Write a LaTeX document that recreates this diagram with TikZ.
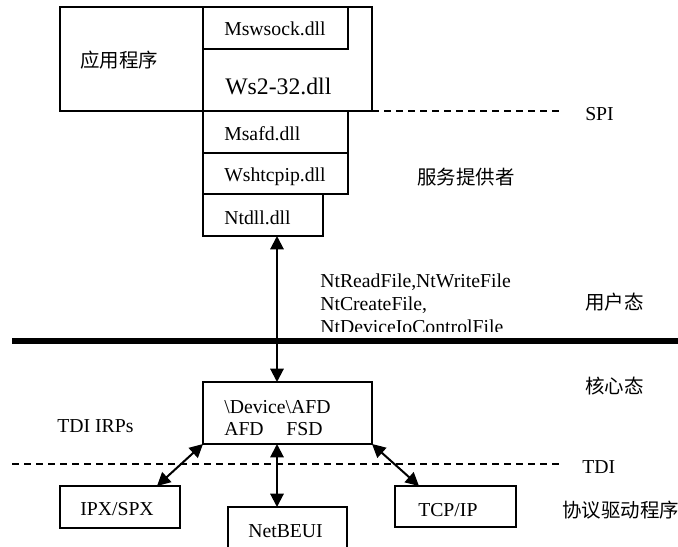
\documentclass[tikz,border=0pt]{standalone}
\usepackage{fontspec}
\setmainfont{Liberation Serif}
\newfontfamily\cjk{Noto Sans CJK SC}
\usetikzlibrary{arrows.meta}
\begin{document}
\begin{tikzpicture}[x=0.75pt,y=-0.75pt,
  boxst/.style={draw,line width=1.5pt,rectangle,inner sep=0pt,outer sep=0pt,anchor=north west},
  lbl/.style={inner sep=0pt,anchor=base west,font=\fontsize{14.8}{17}\selectfont},
  biglbl/.style={inner sep=0pt,anchor=base west,font=\fontsize{17.8}{20}\selectfont},
  cjklbl/.style={inner sep=0pt,anchor=west,font=\cjk\fontsize{14.6}{17}\selectfont},
  dblarrow/.style={line width=1.5pt,{Triangle[length=10pt,width=10pt]}-{Triangle[length=10pt,width=10pt]}},
  dashline/.style={line width=1.2pt,dash pattern=on 5.5pt off 3.5pt},
  thickline/.style={line width=4.5pt}]
\useasboundingbox (0,0) rectangle (678,546);
\clip (0,0) rectangle (678,546);

% boxes
\node[boxst,minimum width=312*0.75pt,minimum height=104*0.75pt] (app) at (60,7) {};
\node[boxst,minimum width=169*0.75pt,minimum height=104*0.75pt] (ws2) at (203,7) {};
\node[boxst,minimum width=145*0.75pt,minimum height=42*0.75pt] (msw) at (203,7) {};
\node[boxst,minimum width=145*0.75pt,minimum height=42*0.75pt] (msafd) at (203,111) {};
\node[boxst,minimum width=145*0.75pt,minimum height=41*0.75pt] (wsh) at (203,153) {};
\node[boxst,minimum width=120*0.75pt,minimum height=42*0.75pt] (ntdll) at (203,194) {};
\node[boxst,minimum width=169*0.75pt,minimum height=62*0.75pt] (afd) at (203,382) {};
\node[boxst,minimum width=120*0.75pt,minimum height=42*0.75pt] (ipx) at (60,486) {};
\node[boxst,minimum width=119*0.75pt,minimum height=43*0.75pt] (netbeui) at (228,507) {};
\node[boxst,minimum width=121*0.75pt,minimum height=41*0.75pt] (tcp) at (395,486) {};

% labels in boxes
\node[cjklbl] (tapp) at (80,60) {应用程序};
\node[lbl] (tmsw) at (224,36) {Mswsock.dll};
\node[biglbl] (tws2) at (225,94) {Ws2-32.dll};
\node[lbl] (tmsafd) at (224,140) {Msafd.dll};
\node[lbl] (twsh) at (224,181) {Wshtcpip.dll};
\node[lbl] (tntdll) at (224,224) {Ntdll.dll};
\node[lbl] (tafd1) at (224,413) {\textbackslash Device\textbackslash AFD};
\node[lbl] (tafd2) at (224,435) {AFD\hspace{17pt}FSD};
\node[lbl] (tipx) at (80,515) {IPX/SPX};
\node[lbl] (tnet) at (248,537) {NetBEUI};
\node[lbl] (ttcp) at (418,516) {TCP/IP};

% side labels
\node[lbl] (tspi) at (585,120) {SPI};
\node[cjklbl] (tsvc) at (417,177) {服务提供者};
\node[cjklbl] (tuser) at (585,302) {用户态};
\node[cjklbl] (tkern) at (585,386) {核心态};
\node[lbl] (tirp) at (57,432) {TDI IRPs};
\node[lbl] (ttdi) at (582,473) {TDI};
\node[cjklbl] (tproto) at (562,510) {协议驱动程序};

\begin{scope}
\clip (300,250) rectangle (620,331);
\node[lbl] (tnt1) at (320,287) {NtReadFile,NtWriteFile};
\node[lbl] (tnt2) at (320,310) {NtCreateFile,};
\node[lbl] (tnt3) at (320,333) {NtDeviceIoControlFile};
\end{scope}

% lines
\coordinate (spiend) at (560,111);
\coordinate (tdistart) at (12,464);
\coordinate (tdiend) at (562,464);
\coordinate (thickstart) at (12,341);
\coordinate (thickend) at (680,341);
\draw[dashline] (app.south east) -- (spiend);
\draw[dashline] (tdistart) -- (tdiend);
\draw[thickline] (thickstart) -- (thickend);

% arrows
\coordinate (ax) at (277,0);
\coordinate (ipxtip) at (157,486);
\coordinate (tcptip) at (419,486);
\draw[dblarrow] (ntdll.south -| ax) -- (afd.north -| ax);
\draw[dblarrow] (afd.south -| ax) -- (netbeui.north -| ax);
\draw[dblarrow] (afd.south west) -- (ipxtip);
\draw[dblarrow] (afd.south east) -- (tcptip);
\end{tikzpicture}
\end{document}
